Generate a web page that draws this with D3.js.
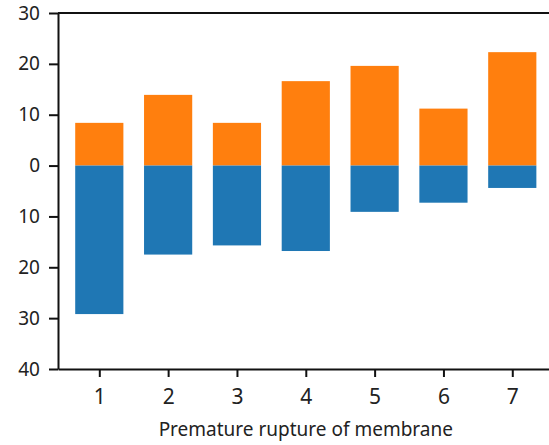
<!DOCTYPE html>
<html>
<head>
<meta charset="utf-8">
<script src="https://cdn.jsdelivr.net/npm/d3@7"></script>
<style>
  body { margin: 0; background: #fff; }
  svg text { font-family: "Noto Sans", sans-serif; fill: #222; }
</style>
</head>
<body>
<div class="chart"></div>
<script>
// data
var categories = [1, 2, 3, 4, 5, 6, 7];
var upperValues = [8.4, 13.9, 8.4, 16.6, 19.6, 11.2, 22.3];   // orange, above zero
var lowerValues = [29.2, 17.5, 15.7, 16.8, 9.1, 7.3, 4.4];    // blue, below zero
var yTicks = [30, 20, 10, 0, -10, -20, -30, -40];

var svgWidth = 549;
var svgHeight = 445;

var margin = { top: 13, left: 58, bottom: 76 };
var plotBottom = svgHeight - margin.bottom;

var svg = d3.select(".chart")
  .append("svg")
  .attr("width", svgWidth)
  .attr("height", svgHeight);

var x = d3.scaleLinear()
  .domain([0.4, 7.6])
  .range([margin.left, margin.left + 7.2 * 68.83]);

var y = d3.scaleLinear()
  .domain([-40, 30])
  .range([plotBottom, margin.top]);

// bars are 0.7 of a category wide
var barW = x(1.7) - x(1);

// orange bars (up)
svg.selectAll(".up")
  .data(categories)
  .enter()
  .append("rect")
  .attr("class", "up")
  .attr("x", d => x(d) - barW / 2)
  .attr("y", (d, i) => y(upperValues[i]))
  .attr("width", barW)
  .attr("height", (d, i) => y(0) - y(upperValues[i]))
  .attr("fill", "#ff7f0e");

// blue bars (down)
svg.selectAll(".down")
  .data(categories)
  .enter()
  .append("rect")
  .attr("class", "down")
  .attr("x", d => x(d) - barW / 2)
  .attr("y", y(0))
  .attr("width", barW)
  .attr("height", (d, i) => y(-lowerValues[i]) - y(0))
  .attr("fill", "#1f77b4");

// axes
var leftAxis = d3.axisLeft(y)
  .tickValues(yTicks)
  .tickFormat(d => Math.abs(d))
  .tickSizeInner(9)
  .tickSizeOuter(0)
  .tickPadding(9);

var bottomAxis = d3.axisBottom(x)
  .tickValues(categories)
  .tickSizeInner(8)
  .tickSizeOuter(0)
  .tickPadding(12);

var gy = svg.append("g")
  .attr("transform", `translate(${margin.left},0)`)
  .call(leftAxis);

var gx = svg.append("g")
  .attr("transform", `translate(0,${plotBottom})`)
  .call(bottomAxis);

[gx, gy].forEach(function(g) {
  g.selectAll("path, line").attr("stroke", "#111").attr("stroke-width", 2);
  g.selectAll("text").attr("font-size", 19).attr("fill", "#222");
});
gx.selectAll("text").attr("font-size", 21);

// top spine
svg.append("line")
  .attr("x1", margin.left)
  .attr("x2", svgWidth)
  .attr("y1", margin.top)
  .attr("y2", margin.top)
  .attr("stroke", "#111")
  .attr("stroke-width", 2);

// x label
svg.append("text")
  .attr("x", x(4))
  .attr("y", 436)
  .attr("text-anchor", "middle")
  .attr("font-size", 19)
  .text("Premature rupture of membrane");
</script>
</body>
</html>
